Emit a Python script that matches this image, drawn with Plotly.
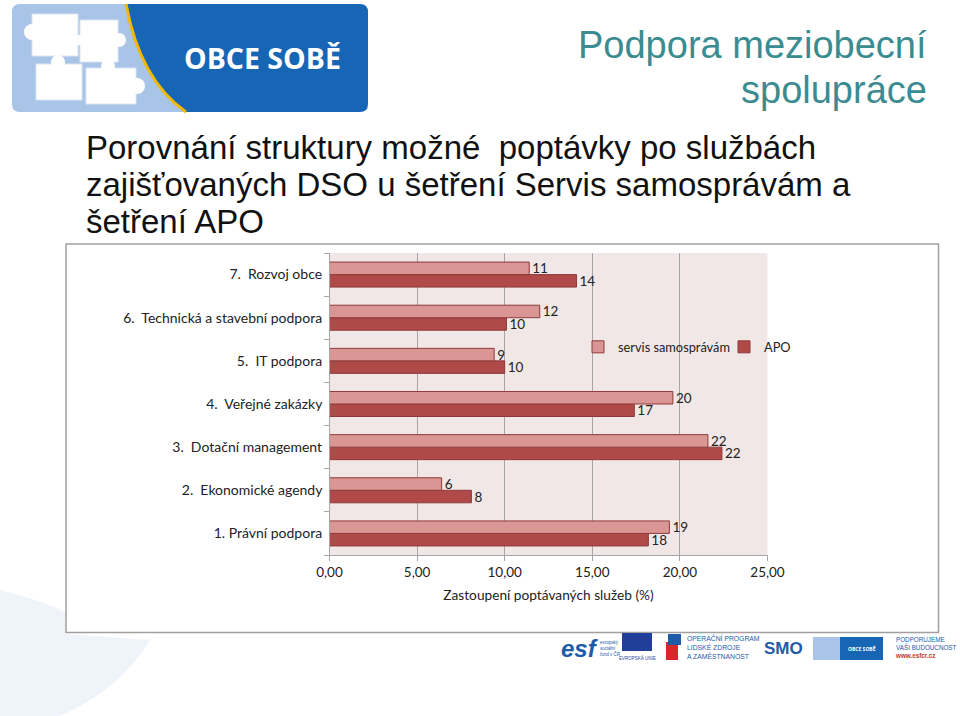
import plotly.graph_objects as go

# ---------------- data ----------------
categories = ["1. Právní podpora", "2.\u00a0 Ekonomické agendy", "3.\u00a0 Dotační management",
              "4.\u00a0 Veřejné zakázky", "5.\u00a0 IT podpora",
              "6.\u00a0 Technická a stavební podpora", "7.\u00a0 Rozvoj obce"]
servis = [19.4, 6.4, 21.6, 19.6, 9.4, 12.0, 11.4]
apo = [18.2, 8.1, 22.4, 17.4, 10.0, 10.1, 14.1]
series_names = ["servis samosprávám", "APO"]
x_ticks = [0, 5, 10, 15, 20, 25]
x_ticklabels = ["0,00", "5,00", "10,00", "15,00", "20,00", "25,00"]

W, H = 960, 716
def px(x):
    return x / W
def py(y):
    return 1 - y / H
def P(x, y):
    return f"{px(x):.5f},{py(y):.5f}"

LIGHT = "#D99694"
DARK = "#B04A49"
EDGE = "#8E3B3A"
FONT = "Lato"

fig = go.Figure()
fig.add_trace(go.Bar(
    y=categories, x=apo, name=series_names[1], orientation="h", legend="legend2",
    marker=dict(color=DARK, line=dict(color=EDGE, width=1)),
    text=apo, texttemplate="%{x:.0f}", textposition="outside", constraintext="none",
    textfont=dict(family=FONT, size=13.5, color="#222"), cliponaxis=False,
))
fig.add_trace(go.Bar(
    y=categories, x=servis, name=series_names[0], orientation="h", legend="legend",
    marker=dict(color=LIGHT, line=dict(color=EDGE, width=1)),
    text=servis, texttemplate="%{x:.0f}", textposition="outside", constraintext="none",
    textfont=dict(family=FONT, size=13.5, color="#222"), cliponaxis=False,
))

shapes = []
annotations = []

def ann(text, x, y, size, color, family="Liberation Sans", xanchor="center", yanchor="middle", align="center"):
    annotations.append(dict(text=text, x=px(x), y=py(y), xref="paper", yref="paper",
                            xanchor=xanchor, yanchor=yanchor, align=align, showarrow=False,
                            font=dict(family=family, size=size, color=color)))

def rect(x0, y0, x1, y1, fill, line_color=None, lw=0, layer="below"):
    shapes.append(dict(type="rect", xref="paper", yref="paper",
                       x0=px(x0), x1=px(x1), y0=py(y1), y1=py(y0),
                       fillcolor=fill, line=dict(color=line_color or fill, width=lw), layer=layer))

# faint background watermark (bottom left, outside the chart frame)
shapes.append(dict(type="path", xref="paper", yref="paper",
                   path=(f"M {P(0,590)} Q {P(40,600)} {P(65,612)} L {P(65,634)} L {P(150,640)} "
                         f"Q {P(120,690)} {P(60,716)} L {P(0,716)} Z"),
                   fillcolor="rgba(190,210,235,0.25)", line=dict(width=0), layer="below"))

# chart frame
shapes.append(dict(type="rect", xref="paper", yref="paper",
                   x0=px(66), x1=px(938.5), y0=py(632.5), y1=py(244),
                   line=dict(color="#A0A0A0", width=1.5), fillcolor="rgba(0,0,0,0)", layer="below"))

# ---- logo OBCE SOBĚ (top left) ----
path_light = (f"M {P(20,4)} L {P(126,4)} Q {P(140,80)} {P(186,112)} L {P(20,112)} "
              f"Q {P(12,112)} {P(12,104)} L {P(12,12)} Q {P(12,4)} {P(20,4)} Z")
shapes.append(dict(type="path", xref="paper", yref="paper", path=path_light,
                   fillcolor="#A8C4E6", line=dict(width=0), layer="below"))
path_dark = (f"M {P(126,4)} Q {P(140,80)} {P(186,112)} L {P(360,112)} "
             f"Q {P(368,112)} {P(368,104)} L {P(368,12)} Q {P(368,4)} {P(360,4)} Z")
shapes.append(dict(type="path", xref="paper", yref="paper", path=path_dark,
                   fillcolor="#1766B5", line=dict(width=0), layer="below"))
shapes.append(dict(type="path", xref="paper", yref="paper",
                   path=f"M {P(126,4)} Q {P(140,80)} {P(186,112)}",
                   line=dict(color="#F5B800", width=3), layer="below"))
# white puzzle pieces (simplified)
for (a, b, c, d) in [(32, 14, 78, 56), (80, 20, 118, 62), (36, 64, 82, 100), (86, 68, 136, 104)]:
    rect(a, b, c, d, "white", "#DCE6F3", 1)
for (cx, cy, r) in [(32, 32, 8), (119, 40, 7), (58, 62, 7), (137, 86, 8), (108, 66, 7), (82, 40, 6)]:
    shapes.append(dict(type="circle", xref="paper", yref="paper",
                       x0=px(cx - r), x1=px(cx + r), y0=py(cy + r), y1=py(cy - r),
                       fillcolor="white", line=dict(width=0), layer="below"))
ann("<b>OBCE SOBĚ</b>", 262, 58, 28.5, "white", family="Open Sans")

# ---- header ----
ann("Podpora meziobecní", 929, 45, 38, "#3A8C91", xanchor="right")
ann("spolupráce", 929, 90, 38, "#3A8C91", xanchor="right")

# ---- slide title ----
title_lines = ["Porovnání struktury možné\u00a0 poptávky po službách",
               "zajišťovaných DSO u šetření Servis samosprávám a",
               "šetření APO"]
for i, t in enumerate(title_lines):
    ann(t, 84, 147 + 37.5 * i, 33, "#111", xanchor="left")

# ---- footer logos (simplified) ----
ann("<b><i>esf</i></b>", 579, 648, 24, "#1E5BA8")
ann("evropský<br>sociální<br>fond v ČR", 598, 648, 4.5, "#1E5BA8", xanchor="left", align="left")
rect(622, 633, 652, 651, "#1F3F99")
ann("EVROPSKÁ UNIE", 637, 658, 4.5, "#1F3F99")
rect(666, 642, 678, 660, "#D9262B")
rect(668, 634, 681, 645, "#1E5BA8")
ann("OPERAČNÍ PROGRAM<br>LIDSKÉ ZDROJE<br>A ZAMĚSTNANOST", 685, 647, 6.8, "#1E5BA8", xanchor="left", align="left")
ann("<b>SMO</b>", 783, 648, 17, "#1E5BA8")
rect(813, 637, 883, 660, "#1766B5")
rect(813, 637, 840, 660, "#A8C4E6")
ann("<b>OBCE SOBĚ</b>", 862, 648, 5, "white", family="Open Sans")
ann("PODPORUJEME<br>VAŠI BUDOUCNOST<br><b><span style='color:#C0392B'>www.esfcr.cz</span></b>",
    893, 647, 6.3, "#1E5BA8", xanchor="left", align="left")

legend_common = dict(yanchor="middle", orientation="h", bgcolor="rgba(0,0,0,0)",
                     font=dict(family=FONT, size=12.8, color="#222"), itemwidth=30)

fig.update_layout(
    width=W, height=H,
    margin=dict(l=0, r=0, t=0, b=0, autoexpand=False),
    paper_bgcolor="white",
    plot_bgcolor="#F2E7E7",
    barmode="group", bargap=0.42, bargroupgap=0,
    showlegend=True,
    legend=dict(x=px(578), y=py(347), xanchor="left", **legend_common),
    legend2=dict(x=px(724), y=py(347), xanchor="left", **legend_common),
    xaxis=dict(domain=[px(329.5), px(767.5)], range=[0, 25], tickvals=x_ticks, ticktext=x_ticklabels,
               showgrid=True, gridcolor="#A6A6A6", gridwidth=1, zeroline=False, automargin=False,
               showline=True, linecolor="#A6A6A6", ticks="outside", tickcolor="#A6A6A6", ticklen=5,
               tickfont=dict(family=FONT, size=13.5, color="#222"),
               title=dict(text="Zastoupení poptávaných služeb (%)", standoff=11,
                          font=dict(family=FONT, size=13.7, color="#222")), fixedrange=True),
    yaxis=dict(domain=[py(555), py(253)], categoryorder="array", categoryarray=categories,
               showline=True, linecolor="#A6A6A6", ticks="outside", tickcolor="#A6A6A6", ticklen=5,
               tickson="boundaries", showgrid=False, automargin=False,
               tickfont=dict(family=FONT, size=14, color="#222"), ticksuffix=" "),
    shapes=shapes, annotations=annotations,
)

fig.write_html("out.html")
